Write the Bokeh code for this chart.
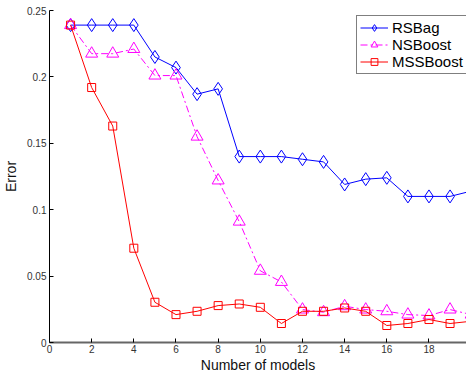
from bokeh.plotting import figure
from bokeh.models import Range1d, FixedTicker, Legend, LegendItem
from bokeh.embed import file_html
from bokeh.resources import INLINE

models = list(range(1, 21))
rsbag = [0.239, 0.239, 0.239, 0.239, 0.215, 0.207, 0.187, 0.191, 0.140, 0.140,
         0.140, 0.138, 0.136, 0.119, 0.123, 0.124, 0.110, 0.110, 0.110, 0.114]
nsboost = [0.239, 0.2175, 0.2175, 0.221, 0.201, 0.201, 0.155, 0.122, 0.091, 0.054,
           0.0456, 0.0248, 0.0228, 0.0273, 0.0248, 0.0235, 0.021, 0.0203, 0.0248, 0.021]
mssboost = [0.239, 0.192, 0.163, 0.071, 0.0303, 0.021, 0.0235, 0.0278, 0.029, 0.0265,
            0.0143, 0.0235, 0.0235, 0.026, 0.0235, 0.0128, 0.0143, 0.0173, 0.0143, 0.016]
x_ticks = [0, 2, 4, 6, 8, 10, 12, 14, 16, 18]
y_ticks = [0, 0.05, 0.1, 0.15, 0.2, 0.25]
y_tick_labels = ["0", "0.05", "0.1", "0.15", "0.2", "0.25"]

FONT = "Liberation Sans"

p = figure(width=466, height=375, output_backend="svg", toolbar_location=None,
           x_range=Range1d(0, 19.78), y_range=Range1d(0, 0.25),
           min_border_left=47, min_border_right=0, min_border_top=10,
           min_border_bottom=32)
p.outline_line_color = None
p.xgrid.visible = False
p.ygrid.visible = False

for ax in (p.xaxis[0], p.yaxis[0]):
    ax.major_tick_in = 4
    ax.major_tick_out = 0
    ax.minor_tick_in = 0
    ax.minor_tick_out = 0
    ax.major_label_text_font = FONT
    ax.major_label_text_font_size = "10px"
    ax.major_label_text_color = "#333333"
    ax.axis_label_text_font = FONT
    ax.axis_label_text_font_size = "14px"
    ax.axis_label_text_font_style = "normal"
    ax.axis_label_text_color = "#111111"

p.xaxis.ticker = FixedTicker(ticks=x_ticks)
p.yaxis.ticker = FixedTicker(ticks=y_ticks)
p.yaxis.major_label_overrides = {t: l for t, l in zip(y_ticks, y_tick_labels)}
p.xaxis.axis_label = "Number of models"
p.yaxis.axis_label = "Error"
p.xaxis.axis_line_color = "#666666"
p.xaxis.axis_line_width = 2
p.yaxis.axis_line_color = "black"
p.xaxis.major_label_standoff = 2
p.yaxis.major_label_standoff = 3
p.xaxis.axis_label_standoff = 1
p.yaxis.axis_label_standoff = 5

l1 = p.line(models, rsbag, line_color="#0000ff", line_width=1)
s1 = p.scatter(models, rsbag, marker="diamond", size=13, line_color="#0000ff",
               fill_color=None, line_width=1)
l2 = p.line(models, nsboost, line_color="#ff00ff", line_width=1, line_dash="7 3 2 3")
s2 = p.scatter(models, nsboost, marker="triangle", size=12, line_color="#ff00ff",
               fill_color=None, line_width=1)
l3 = p.line(models, mssboost, line_color="#ff0000", line_width=1)
s3 = p.scatter(models, mssboost, marker="square", size=8, line_color="#ff0000",
               fill_color=None, line_width=1)

legend = Legend(items=[
    LegendItem(label="RSBag", renderers=[l1, s1]),
    LegendItem(label="NSBoost", renderers=[l2, s2]),
    LegendItem(label="MSSBoost", renderers=[l3, s3]),
], location=(307, 268))
legend.label_text_font = FONT
legend.label_text_font_size = "15px"
legend.label_text_color = "black"
legend.border_line_color = "black"
legend.border_line_width = 1
legend.margin = 0
legend.padding = 3
legend.spacing = 0
legend.glyph_width = 28
legend.glyph_height = 17
legend.label_height = 17
legend.label_standoff = 4
legend.background_fill_alpha = 1
p.add_layout(legend)

open("out.html", "w").write(file_html(p, INLINE))
